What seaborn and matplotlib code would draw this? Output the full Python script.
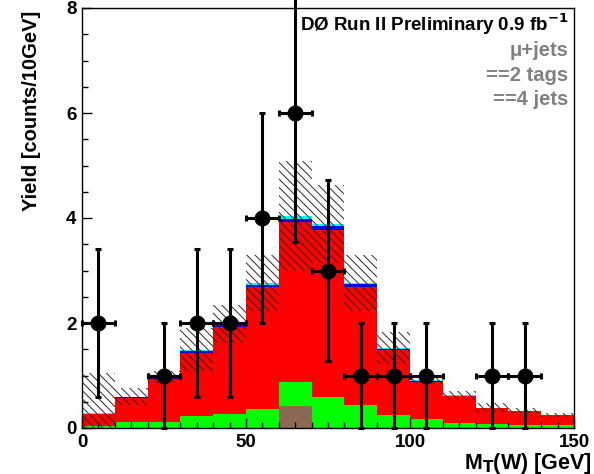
import numpy as np
import pandas as pd
import matplotlib
matplotlib.use("Agg")
import matplotlib.pyplot as plt
from matplotlib.ticker import MultipleLocator
import seaborn as sns

# Transverse W mass, 10 GeV bins from 0 to 150 GeV
bin_edges = [0, 10, 20, 30, 40, 50, 60, 70, 80, 90, 100, 110, 120, 130, 140, 150]

# Expected yields per bin for each process (stacked bottom to top)
brown_bkg = [0, 0, 0, 0, 0, 0, 0.42, 0, 0, 0, 0, 0, 0, 0, 0]
green_bkg = [0.03, 0.12, 0.12, 0.23, 0.27, 0.36, 0.45, 0.60, 0.44, 0.25, 0.18, 0.09, 0.07, 0.06, 0.05]
red_sig = [0.24, 0.46, 0.82, 1.20, 1.65, 2.32, 3.06, 3.18, 2.25, 1.23, 0.70, 0.51, 0.305, 0.255, 0.19]
blue_bkg = [0.005, 0.01, 0.02, 0.03, 0.04, 0.05, 0.06, 0.06, 0.05, 0.03, 0.02, 0.01, 0.01, 0.01, 0.005]
cyan_bkg = [0.005, 0.01, 0.01, 0.03, 0.02, 0.03, 0.05, 0.05, 0.02, 0.01, 0.01, 0.01, 0.005, 0.005, 0.005]

# Total systematic uncertainty on the prediction
pred_err = [0.76, 0.16, 0.12, 0.41, 0.36, 0.54, 1.05, 0.74, 0.54, 0.31, 0.08, 0.09, 0.09, 0.05, 0.04]

# Observed events
data_x = [5, 25, 35, 45, 55, 65, 75, 85, 95, 105, 125, 135]
data_n = [2, 1, 2, 2, 4, 6, 3, 1, 1, 1, 1, 1]

edges = np.array(bin_edges, dtype=float)
centers = 0.5 * (edges[:-1] + edges[1:])
width = np.diff(edges)

layers = {
    "cyan": cyan_bkg,
    "blue": blue_bkg,
    "red": red_sig,
    "green": green_bkg,
    "brown": brown_bkg,
}
palette = {
    "cyan": "#00ffff",
    "blue": "#0000ff",
    "red": "#ff0000",
    "green": "#00ff00",
    "brown": "#8b6955",
}
frames = [pd.DataFrame({"mt": centers, "yield": vals, "proc": name})
          for name, vals in layers.items()]
df = pd.concat(frames, ignore_index=True)

plt.rcParams["font.family"] = ["Liberation Sans", "DejaVu Sans"]
plt.rcParams["font.weight"] = "bold"
plt.rcParams["mathtext.default"] = "bf"
plt.rcParams["hatch.linewidth"] = 0.7

fig = plt.figure(figsize=(5.94, 4.74), dpi=100)
ax = fig.add_axes([82 / 594, 46 / 474, 492 / 594, 420 / 474])

# seaborn stacks the last hue level at the bottom
sns.histplot(data=df, x="mt", weights="yield", hue="proc",
             hue_order=list(layers.keys()), palette=palette,
             bins=list(bin_edges), multiple="stack", element="bars", fill=True,
             alpha=1, linewidth=0, shrink=1, legend=False, ax=ax)

total = np.sum([np.array(v) for v in layers.values()], axis=0)
err = np.array(pred_err)
low = np.clip(total - err, 0, None)
high = total + err
ax.bar(centers, high - low, bottom=low, width=width, fill=False,
       hatch="\\\\\\\\", edgecolor="#2a2a2a", linewidth=0, zorder=3)

# Data points with Poisson errors
data_n_arr = np.array(data_n, dtype=float)
ax.errorbar(data_x, data_n_arr, yerr=np.sqrt(data_n_arr), xerr=5,
            fmt="o", color="black", markersize=10.5, elinewidth=2.2,
            capsize=2, capthick=2.2, zorder=5, clip_on=False)

ax.set_xlim(0, 150)
ax.set_ylim(0, 8)
ax.xaxis.set_major_locator(MultipleLocator(50))
ax.xaxis.set_minor_locator(MultipleLocator(5))
ax.yaxis.set_major_locator(MultipleLocator(2))
ax.yaxis.set_minor_locator(MultipleLocator(0.5))
ax.tick_params(which="both", direction="in", top=False, right=False,
               labelsize=13.5, width=1)
ax.tick_params(which="major", length=7, pad=4)
ax.tick_params(which="minor", length=4)
for lab in ax.get_xticklabels() + ax.get_yticklabels():
    lab.set_fontweight("bold")
for sp in ax.spines.values():
    sp.set_linewidth(1)
    sp.set_color("black")

ax.set_xlabel("")
ax.set_ylabel("")
fig.text(592 / 594, 1 - 463 / 474, r"M$_\mathbf{T}$(W) [GeV]", ha="right",
         va="center", fontsize=15.5, fontweight="bold")
fig.text(32 / 594, 1 - 11 / 474, "Yield [counts/10GeV]", rotation=90,
         ha="center", va="top", fontsize=14.5, fontweight="bold")

ax.text(0.988, 0.962, r"DØ Run II Preliminary 0.9 fb$^{\mathbf{-1}}$",
        transform=ax.transAxes, ha="right", va="center", fontsize=13.5,
        fontweight="bold", color="black", zorder=6)
gray_lines = ["\u03bc+jets", "==2 tags", "==4 jets"]
gray_y = [0.900, 0.840, 0.781]
for line, yy in zip(gray_lines, gray_y):
    ax.text(0.988, yy, line, transform=ax.transAxes,
            ha="right", va="center", fontsize=14.5, fontweight="bold",
            color="#808080", zorder=6)

fig.savefig("out.png", dpi=100)
